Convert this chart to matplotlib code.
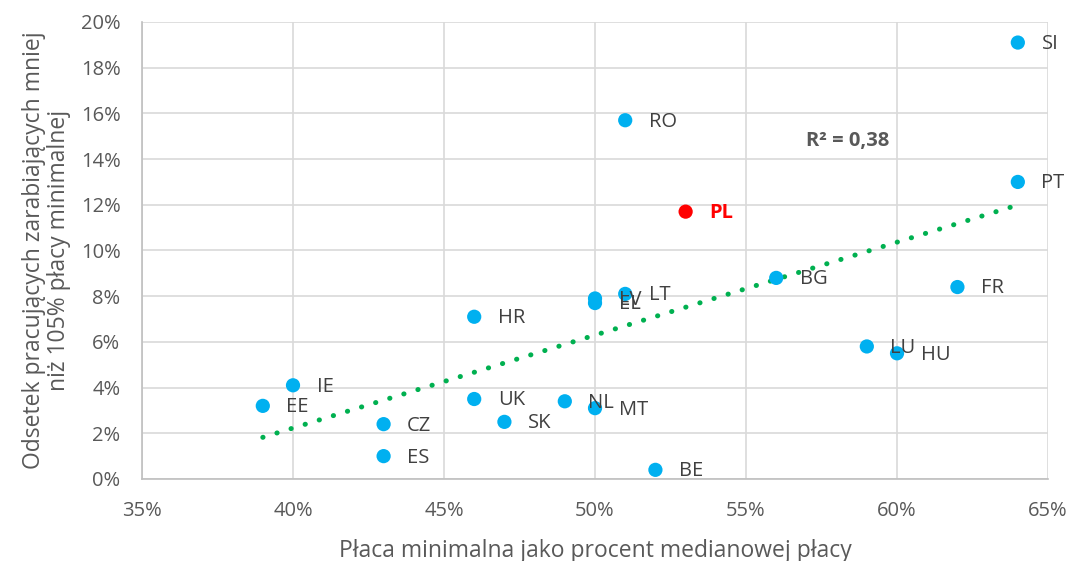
import matplotlib
matplotlib.use("Agg")
import matplotlib.pyplot as plt
import numpy as np
from matplotlib.ticker import FuncFormatter

plt.rcParams['font.family'] = ['Open Sans', 'DejaVu Sans']

countries = ["SI", "RO", "PT", "PL", "BG", "FR", "LV", "EL", "LT", "HR", "LU", "HU",
             "IE", "EE", "UK", "NL", "MT", "CZ", "SK", "ES", "BE"]
min_wage_pct = [64, 51, 64, 53, 56, 62, 50, 50, 51, 46, 59, 60,
                40, 39, 46, 49, 50, 43, 47, 43, 52]
share_below = [19.1, 15.7, 13.0, 11.7, 8.8, 8.4, 7.9, 7.7, 8.1, 7.1, 5.8, 5.5,
               4.1, 3.2, 3.5, 3.4, 3.1, 2.4, 2.5, 1.0, 0.4]
highlight = "PL"
r2_text = "R² = 0,38"

x = np.array(min_wage_pct, dtype=float)
y = np.array(share_below, dtype=float)

fig = plt.figure(figsize=(10.79, 5.61), dpi=100)
ax = fig.add_axes([0.1316, 0.1462, 0.8397, 0.8146])

ax.set_xlim(35, 65)
ax.set_ylim(0, 20)
ax.set_xticks(np.arange(35, 66, 5))
ax.set_yticks(np.arange(0, 21, 2))
ax.grid(True, color="#D9D9D9", linewidth=1.2)
ax.set_axisbelow(True)
for k, s in ax.spines.items():
    if k in ("left", "bottom"):
        s.set_color("#BFBFBF")
        s.set_linewidth(1.2)
    else:
        s.set_visible(False)
ax.tick_params(length=0, colors="#595959", labelsize=14.5, pad=15.5)
ax.xaxis.set_major_formatter(FuncFormatter(lambda v, p: f"{v:.0f}%"))
ax.yaxis.set_major_formatter(FuncFormatter(lambda v, p: f"{v:.0f}%"))

# trend line
coef = np.polyfit(x, y, 1)
xs = np.array([x.min(), x.max()])
ax.plot(xs, np.polyval(coef, xs), color="#00B050", linewidth=3.6,
        linestyle=(0, (0.05, 2.9)), dash_capstyle="round", zorder=2)

colors = ["#FF0000" if c == highlight else "#00B0F0" for c in countries]
ax.scatter(x, y, s=105, c=colors, edgecolors="none", zorder=3)

for c, xi, yi in zip(countries, x, y):
    if c == highlight:
        ax.annotate(c, (xi, yi), xytext=(17, -1), textcoords="offset points",
                    ha="left", va="center", fontsize=14.5, color="#FF0000",
                    fontweight="bold", zorder=4)
    else:
        ax.annotate(c, (xi, yi), xytext=(17, -1), textcoords="offset points",
                    ha="left", va="center", fontsize=14.5, color="#404040", zorder=4)

ax.text(57.0, 14.8, r2_text, ha="left", va="center", fontsize=14.5,
        fontweight="bold", color="#595959")

ax.set_xlabel("Płaca minimalna jako procent medianowej płacy", fontsize=16.5,
              color="#595959", labelpad=13)
ax.set_ylabel("Odsetek pracujących zarabiających mniej\nniż 105% płacy minimalnej",
              fontsize=16.5, color="#595959", labelpad=7, linespacing=1.05)

fig.savefig("out.png", dpi=100)
